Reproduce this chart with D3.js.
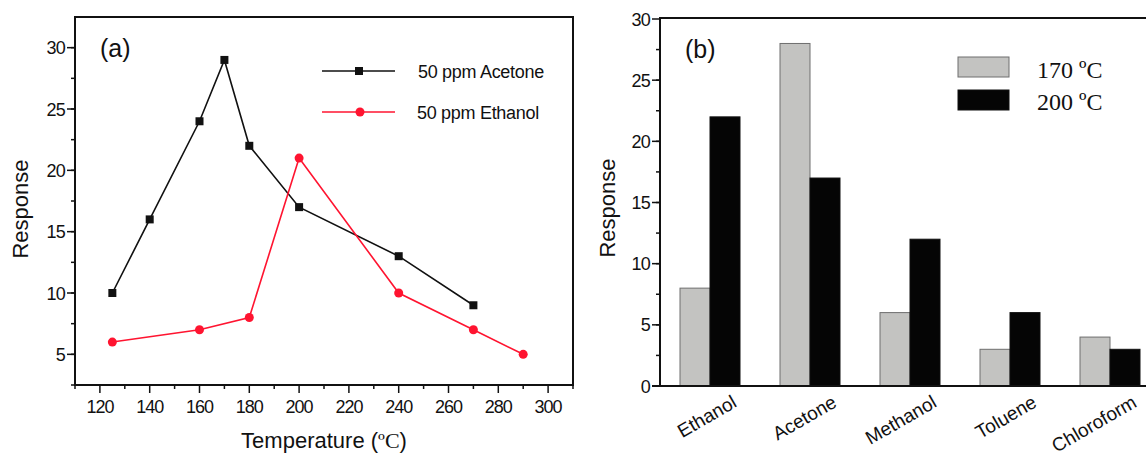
<!DOCTYPE html>
<html>
<head>
<meta charset="utf-8">
<script src="https://cdn.jsdelivr.net/npm/d3@7"></script>
<style>
  body { margin: 0; background: #fff; }
  text { font-family: 'Liberation Sans', Arial, sans-serif; fill: #111; }
</style>
</head>
<body>
<svg id="chart" width="1146" height="455"></svg>
<script>
'use strict';

// panel (a): response vs temperature
var acetoneTemp = [125, 140, 160, 170, 180, 200, 240, 270],
    acetoneResp = [10, 16, 24, 29, 22, 17, 13, 9];
var ethanolTemp = [125, 160, 180, 200, 240, 270, 290],
    ethanolResp = [6, 7, 8, 21, 10, 7, 5];
var tempTicks = [120, 140, 160, 180, 200, 220, 240, 260, 280, 300],
    respTicksA = [5, 10, 15, 20, 25, 30];

// panel (b): response per gas at two temperatures
var gases = ['Ethanol', 'Acetone', 'Methanol', 'Toluene', 'Chloroform'],
    resp170 = [8, 28, 6, 3, 4],
    resp200 = [22, 17, 12, 6, 3];
var respTicksB = [0, 5, 10, 15, 20, 25, 30];

var svg = d3.select('#chart');
var red = '#ff1430';

function frame(g, x0, y0, x1, y1) {
    g.append('rect')
        .attr('x', x0).attr('y', y0)
        .attr('width', x1 - x0).attr('height', y1 - y0)
        .attr('fill', 'none')
        .attr('stroke', '#111')
        .attr('stroke-width', 2);
}

function yAxis(g, y, x0, ticks, minors) {
    minors.forEach(function(v) {
        g.append('line')
            .attr('x1', x0 - 4).attr('x2', x0)
            .attr('y1', y(v)).attr('y2', y(v))
            .attr('stroke', '#111').attr('stroke-width', 1.5);
    });
    ticks.forEach(function(v) {
        g.append('line')
            .attr('x1', x0 - 8).attr('x2', x0)
            .attr('y1', y(v)).attr('y2', y(v))
            .attr('stroke', '#111').attr('stroke-width', 1.5);
        g.append('text')
            .attr('x', x0 - 10).attr('y', y(v) + 6.5)
            .attr('text-anchor', 'end')
            .style('font-size', '18px')
            .style('letter-spacing', '-0.8px')
            .text(v);
    });
}

/* ---------- panel (a) ---------- */
(function() {
    var g = svg.append('g');
    var x = d3.scaleLinear().domain([110, 310]).range([75, 573]),
        y = d3.scaleLinear().domain([2.5, 32.5]).range([385, 17]);

    frame(g, 75, 17, 573, 385);

    yAxis(g, y, 75, respTicksA, d3.range(2.5, 32.5, 2.5));

    d3.range(110, 311, 10).forEach(function(v) {
        var major = tempTicks.indexOf(v) !== -1;
        g.append('line')
            .attr('x1', x(v)).attr('x2', x(v))
            .attr('y1', 385).attr('y2', 385 + (major ? 8 : 4))
            .attr('stroke', '#111').attr('stroke-width', 1.5);
    });
    tempTicks.forEach(function(v) {
        g.append('text')
            .attr('x', x(v)).attr('y', 413)
            .attr('text-anchor', 'middle')
            .style('font-size', '18px')
            .style('letter-spacing', '-1px')
            .text(v);
    });

    g.append('text')
        .attr('transform', 'translate(28,209) rotate(-90)')
        .attr('text-anchor', 'middle')
        .style('font-size', '22px')
        .text('Response');

    var xt = g.append('text')
        .attr('x', 324).attr('y', 448)
        .attr('text-anchor', 'middle')
        .style('font-size', '22px');
    xt.append('tspan').text('Temperature  (');
    xt.append('tspan').style('font-family', "'Liberation Serif', serif").text('\u00BAC');
    xt.append('tspan').text(')');

    g.append('text')
        .attr('x', 100).attr('y', 57)
        .style('font-size', '25px')
        .text('(a)');

    var line = d3.line()
        .x(function(d) { return x(d[0]); })
        .y(function(d) { return y(d[1]); });

    var acetone = d3.zip(acetoneTemp, acetoneResp),
        ethanol = d3.zip(ethanolTemp, ethanolResp);

    g.append('path').datum(acetone)
        .attr('d', line)
        .attr('fill', 'none').attr('stroke', '#111').attr('stroke-width', 1.6);
    g.append('path').datum(ethanol)
        .attr('d', line)
        .attr('fill', 'none').attr('stroke', red).attr('stroke-width', 1.6);

    g.selectAll('rect.pt').data(acetone)
        .enter().append('rect')
            .attr('class', 'pt')
            .attr('x', function(d) { return x(d[0]) - 4; })
            .attr('y', function(d) { return y(d[1]) - 4; })
            .attr('width', 8).attr('height', 8)
            .attr('fill', '#111');
    g.selectAll('circle.pt').data(ethanol)
        .enter().append('circle')
            .attr('class', 'pt')
            .attr('cx', function(d) { return x(d[0]); })
            .attr('cy', function(d) { return y(d[1]); })
            .attr('r', 4.5)
            .attr('fill', red);

    // legend
    var lg = g.append('g');
    lg.append('line').attr('x1', 322).attr('x2', 395).attr('y1', 71).attr('y2', 71)
        .attr('stroke', '#111').attr('stroke-width', 1.6);
    lg.append('rect').attr('x', 355).attr('y', 67).attr('width', 8).attr('height', 8)
        .attr('fill', '#111');
    lg.append('line').attr('x1', 322).attr('x2', 395).attr('y1', 112).attr('y2', 112)
        .attr('stroke', red).attr('stroke-width', 1.6);
    lg.append('circle').attr('cx', 360).attr('cy', 112).attr('r', 4.5)
        .attr('fill', red);
    lg.append('text').attr('x', 418).attr('y', 78)
        .style('font-size', '18px').style('letter-spacing', '-0.3px')
        .text('50 ppm Acetone');
    lg.append('text').attr('x', 417).attr('y', 119)
        .style('font-size', '18px').style('letter-spacing', '-0.3px')
        .text('50 ppm Ethanol');
})();

/* ---------- panel (b) ---------- */
(function() {
    var g = svg.append('g');
    var x = d3.scaleBand().domain(gases).range([660, 1160]),
        y = d3.scaleLinear().domain([0, 30]).range([386, 19]);
    var barW = 30;

    frame(g, 660, 18, 1160, 386);

    yAxis(g, y, 660, respTicksB, d3.range(0, 30, 2.5));

    g.append('text')
        .attr('transform', 'translate(615,208) rotate(-90)')
        .attr('text-anchor', 'middle')
        .style('font-size', '22px')
        .text('Response');

    g.append('text')
        .attr('x', 685).attr('y', 58)
        .style('font-size', '25px')
        .text('(b)');

    var rows = gases.map(function(name, i) {
        return { name: name, a: resp170[i], b: resp200[i] };
    });

    g.selectAll('rect.b170').data(rows)
        .enter().append('rect')
            .attr('class', 'b170')
            .attr('x', function(d) { return x(d.name) + x.bandwidth() / 2 - barW; })
            .attr('y', function(d) { return y(d.a); })
            .attr('width', barW)
            .attr('height', function(d) { return y(0) - y(d.a); })
            .attr('fill', '#c3c3c1')
            .attr('stroke', '#6e6e6e')
            .attr('stroke-width', 1);
    g.selectAll('rect.b200').data(rows)
        .enter().append('rect')
            .attr('class', 'b200')
            .attr('x', function(d) { return x(d.name) + x.bandwidth() / 2; })
            .attr('y', function(d) { return y(d.b); })
            .attr('width', barW)
            .attr('height', function(d) { return y(0) - y(d.b); })
            .attr('fill', '#050505')
            .attr('stroke', '#111')
            .attr('stroke-width', 1);

    g.append('line')
        .attr('x1', 652).attr('x2', 1160).attr('y1', 386).attr('y2', 386)
        .attr('stroke', '#111').attr('stroke-width', 2);

    g.selectAll('text.gas').data(gases)
        .enter().append('text')
            .attr('class', 'gas')
            .attr('text-anchor', 'end')
            .attr('transform', function(d) {
                return 'translate(' + (x(d) + x.bandwidth() / 2 + 28) + ',406) rotate(-30)';
            })
            .style('font-size', '19px')
            .text(function(d) { return d; });

    // legend
    var items = [{ t: '170 \u00BAC', fill: '#c3c3c1', stroke: '#6e6e6e' },
                 { t: '200 \u00BAC', fill: '#050505', stroke: '#111' }];
    items.forEach(function(it, i) {
        g.append('rect')
            .attr('x', 958).attr('y', 57 + i * 33)
            .attr('width', 51).attr('height', 20)
            .attr('fill', it.fill).attr('stroke', it.stroke);
        g.append('text')
            .attr('x', 1037).attr('y', 78 + i * 32)
            .style('font-family', "'Liberation Serif', serif")
            .style('font-size', '24px')
            .text(it.t);
    });
})();
</script>
</body>
</html>
